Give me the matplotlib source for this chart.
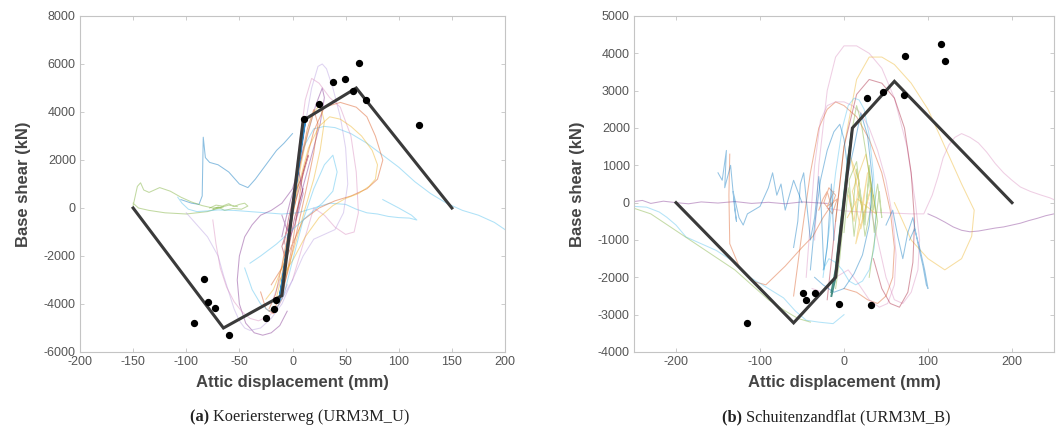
import matplotlib
matplotlib.use("Agg")
import matplotlib.pyplot as plt

# ---------------- data ----------------
# MATLAB default line colours
C_BLUE = (0.0, 0.447, 0.741)
C_ORANGE = (0.85, 0.325, 0.098)
C_YELLOW = (0.929, 0.694, 0.125)
C_PURPLE = (0.494, 0.184, 0.556)
C_GREEN = (0.466, 0.674, 0.188)
C_CYAN = (0.301, 0.745, 0.933)
C_RED = (0.635, 0.078, 0.184)
C_PINK = (0.85, 0.55, 0.75)
C_LAV = (0.72, 0.62, 0.88)

# (a) Koeriersterweg – backbone and target points
a_backbone_x = [-150, -65, -10, 10, 60, 150]
a_backbone_y = [0, -5000, -3650, 3650, 5000, 0]
a_dots_x = [63, 38, 49, 57, 25, 69, 11, 119, -83, -80, -73, -93, -60, -25, -17, -16]
a_dots_y = [6040, 5250, 5360, 4875, 4350, 4490, 3720, 3440,
            -2940, -3920, -4150, -4780, -5300, -4580, -4190, -3850]

# (a) response curves (hand-read)
a_cyan_long_x = [-5, 2, 10, 20, 30, 40, 55, 70, 85, 100, 115, 130, 145, 160, 175, 190, 200]
a_cyan_long_y = [-1500, 800, 2500, 3300, 3400, 3350, 3100, 2700, 2200, 1700, 1100, 600, 200, -100, -300, -600, -900]
a_blue_spike_x = [-105, -95, -88, -85, -84, -82, -78, -70, -60, -50, -42, -35, -25, -15, -8, 0]
a_blue_spike_y = [350, 200, 150, 500, 2950, 2100, 1900, 1800, 1500, 1000, 850, 1200, 1800, 2400, 2700, 3100]
a_green_left_x = [-150, -148, -146, -143, -140, -135, -125, -115, -105, -95, -85, -75, -65, -80, -100, -120, -135, -145, -150]
a_green_left_y = [100, 500, 900, 1050, 750, 650, 850, 700, 450, 250, 100, 0, 50, -150, -250, -200, -100, 0, 200]
a_green_cl_x = [-78, -72, -66, -60, -55, -50, -45, -42, -48, -56, -64, -70, -75, -68, -60, -52]
a_green_cl_y = [0, 120, 80, 180, 60, 150, 200, 80, -50, -20, -100, 40, -50, 20, 120, 60]
a_cyan_mid_x = [-108, -104, -98, -90, -80, -70, -55, -40, -25, -10, 5, 20, 35, 50, 60, 70, 80, 90, 100, 110, 117, 112, 100, 85]
a_cyan_mid_y = [450, 200, -50, -150, -120, -80, -100, -150, -200, -250, -200, 0, 200, 150, -50, -200, -250, -350, -400, -420, -500, -300, 0, 350]
a_purple_x = [-5, -12, -20, -28, -36, -44, -50, -52, -50, -45, -38, -30, -20, -10, 0, 8, 15, 22, 28, 30, 26, 18, 10, 3]
a_purple_y = [-4300, -4900, -5200, -5300, -5200, -4800, -4000, -3000, -2000, -1200, -700, -300, -100, 200, 800, 2000, 3200, 4300, 5000, 4600, 3500, 2200, 900, -500]
a_lav_x = [-20, -10, -2, 5, 12, 18, 24, 28, 32, 38, 45, 50, 52, 48, 40, 30, 20, 10, 0, -10]
a_lav_y = [-4000, -2800, -1000, 1000, 3500, 5000, 5900, 6000, 5800, 5000, 3800, 2500, 1000, -200, -900, -1100, -1300, -2000, -3000, -3800]
a_pink_x = [-10, -2, 6, 12, 18, 25, 35, 45, 55, 60, 62, 58, 50, 40, 30, 20, 10, 0]
a_pink_y = [-3000, -500, 2500, 4500, 5400, 5200, 4600, 4200, 3000, 1500, -200, -1000, -1100, -800, -300, 0, -1500, -3000]
a_orange_x = [-30, -25, -18, -10, 0, 10, 20, 30, 45, 60, 70, 78, 85, 80, 70, 55, 40, 25, 10, 0, -10, -20]
a_orange_y = [-3500, -4200, -4400, -3800, -1500, 1500, 3200, 4200, 4400, 4200, 3800, 3000, 2000, 1200, 800, 500, 300, 0, -500, -1500, -2500, -3200]
a_yellow_x = [-25, -18, -10, -2, 6, 15, 25, 35, 45, 55, 65, 75, 80, 78, 72, 62, 50, 38, 25, 12, 0, -12]
a_yellow_y = [-3800, -3400, -2500, -800, 1000, 2500, 3400, 3800, 3700, 3400, 3000, 2400, 1800, 1200, 900, 600, 400, 100, -400, -1200, -2200, -3000]
a_lp2_x = [-100, -90, -80, -70, -65, -60, -55, -50, -45, -40, -30, -20, -10, 0]
a_lp2_y = [-200, -700, -1200, -2000, -2800, -3500, -4200, -4700, -5000, -5100, -5000, -4600, -4000, -3000]
a_lp3_x = [-75, -72, -68, -62, -55, -48, -40, -32, -22, -12, -5]
a_lp3_y = [-500, -1500, -2500, -3300, -3900, -4300, -4600, -4700, -4500, -4000, -3200]
a_red_x = [-8, -4, 0, 4, 8, 12, 15, 10, 5, 0, -5, -10, -6, 2, 10]
a_red_y = [-1500, -500, 300, 800, 1200, 1800, 2200, 1400, 600, -200, -900, -1600, -2200, -400, 800]
a_or2_x = [-22, -16, -10, -4, 2, 8, 14, 20, 24, 20, 14, 8, 2, -4, -10, -16, -22]
a_or2_y = [-4200, -3600, -2400, -1000, 600, 2000, 3300, 4100, 3500, 2300, 1000, -200, -1400, -2600, -3500, -4100, -4300]
a_yel2_x = [-16, -10, -4, 2, 8, 14, 20, 26, 30, 26, 20, 12, 4, -4, -12]
a_yel2_y = [-3900, -2800, -1400, 200, 1800, 3100, 4000, 4300, 3600, 2400, 1200, 0, -1300, -2500, -3500]
a_pur2_x = [-10, -6, -2, 2, 6, 10, 6, 2, -2, -6, -10]
a_pur2_y = [-1200, -400, 300, 900, 1500, 600, -100, -700, -1200, -800, -300]
a_blue2_x = [-45, -38, -30, -22, -15, -8, 0, 10, 20, 30, 38, 42, 38, 28, 15, 0, -15, -30, -40]
a_blue2_y = [-2500, -3400, -4000, -4300, -4200, -3600, -2200, -500, 800, 1800, 2200, 1500, 700, 200, -300, -900, -1500, -2000, -2300]
a_core_x = [-12, -8, -4, 0, 4, 8, 12, 8, 4, 0, -4, -8, -12]
a_core_y = [-3800, -2600, -1300, 0, 1300, 2600, 3700, 2500, 1200, -100, -1400, -2700, -3700]

# (b) Schuitenzandflat – backbone and target points
b_backbone_x = [-200, -60, -10, 10, 60, 200]
b_backbone_y = [0, -3220, -2000, 2000, 3250, 0]
b_dots_x = [116, 120, 73, 27, 47, 71, -116, -49, -45, -35, -6, 32]
b_dots_y = [4240, 3795, 3930, 2810, 2960, 2875, -3220, -2410, -2615, -2410, -2705, -2750]

# (b) response curves (hand-read)
b_purple_flat_x = [-250, -240, -230, -215, -200, -185, -170, -150, -130, -110, -90, -70, -50, -35, -20]
b_purple_flat_y = [30, 60, -20, 40, 0, -30, 20, -10, 30, -20, 10, -30, 20, 0, -20]
b_purple_hump_x = [-20, 0, 20, 40, 60, 80, 95, 105, 112, 118, 125, 132, 140, 150, 160, 170, 180, 190, 200, 210, 222, 235, 245, 250]
b_purple_hump_y = [-150, -220, -250, -260, -280, -300, -300, 200, 700, 1200, 1550, 1750, 1850, 1750, 1600, 1350, 1050, 800, 600, 420, 300, 200, 130, 80]
b_purple_low_x = [100, 110, 120, 130, 140, 150, 160, 170, 180, 190, 200, 210, 220, 230, 240, 250]
b_purple_low_y = [-300, -400, -520, -650, -740, -780, -760, -720, -680, -650, -600, -550, -480, -420, -350, -300]
b_pink_tall_x = [-35, -30, -20, -10, 0, 15, 30, 45, 60, 75, 85, 90, 88, 80, 70, 60, 50, 40, 30]
b_pink_tall_y = [-1000, 1000, 3000, 3900, 4200, 4200, 4000, 3600, 2800, 1500, 0, -1000, -1800, -2400, -2700, -2600, -2000, -1000, 0]
b_yellow_x = [-10, 0, 15, 30, 45, 60, 80, 100, 120, 140, 155, 152, 140, 120, 100, 80, 60]
b_yellow_y = [-500, 1500, 3300, 3900, 3900, 3700, 3200, 2500, 1500, 500, -200, -900, -1500, -1800, -1500, -1000, 0]
b_orange_left_x = [-136, -137, -136, -125, -110, -93, -70, -50, -37, -25, -13]
b_orange_left_y = [1300, 200, -1100, -1700, -2100, -2200, -1700, -1200, -900, -400, 0]
b_orange_cl_x = [-30, -25, -20, -15, -10, -18, -24, -14, -8, -20, -12]
b_orange_cl_y = [-200, 100, 300, -100, 200, 400, 0, -300, 100, -100, 300]
b_orange_loop_x = [-60, -50, -40, -30, -20, -10, 0, 15, 30, 45, 55, 60, 58, 50, 40, 28, 15, 0]
b_orange_loop_y = [-2500, -800, 800, 2000, 2500, 2700, 2600, 2300, 1700, 800, -200, -1200, -2000, -2500, -2700, -2600, -2400, -2300]
b_blue_left_x = [-150, -145, -140, -142, -135, -130, -128, -132, -125, -120, -115, -100, -90, -85, -80, -75, -70, -60, -50]
b_blue_left_y = [800, 600, 1400, 400, 1000, -200, -500, 300, -400, -600, -300, -100, 400, 800, 200, 500, -200, 600, 0]
b_cyan_low_x = [-250, -235, -220, -211, -200, -188, -170, -152, -130, -112, -90, -72, -58, -45, -30, -13, 0]
b_cyan_low_y = [-100, -120, -250, -390, -600, -920, -1100, -1280, -1600, -2000, -2300, -2550, -2900, -3150, -3200, -3240, -3000]
b_green_low_x = [-250, -230, -210, -190, -170, -150, -130, -110, -90, -70, -55, -40]
b_green_low_y = [-150, -300, -600, -900, -1200, -1500, -1800, -2200, -2600, -2900, -3100, -3200]
b_pink2_x = [-45, -40, -35, -28, -20, -10, 0, 10, 20, 30, 40, 50, 58, 62, 60, 52, 42, 30, 18, 5, -10, -25, -38]
b_pink2_y = [-2000, -500, 1000, 2200, 2600, 2700, 2700, 2600, 2400, 2000, 1400, 600, -400, -1400, -2200, -2700, -2800, -2600, -2200, -1800, -2000, -2400, -2300]
b_pink3_x = [-20, -10, 0, 15, 30, 45, 60, 72, 80, 84, 82, 76, 66, 55, 45, 35]
b_pink3_y = [-2600, -500, 1500, 2900, 3300, 3200, 2800, 2000, 800, -500, -1600, -2400, -2800, -2700, -2300, -1500]
b_cyan_tall_x = [-25, -18, -10, -2, 5, 12, 18, 24, 30, 35, 38, 36, 30, 22, 14, 6, -2, -10, -18, -25]
b_cyan_tall_y = [-2000, -800, 800, 2000, 2600, 2800, 2750, 2500, 1800, 800, -300, -1200, -1800, -2100, -2200, -2100, -1800, -1600, -1500, -1800]
b_blue_mid_x = [-60, -55, -52, -48, -45, -40, -35, -30, -27, -24, -20, -15, -12]
b_blue_mid_y = [-1200, -500, 500, 800, 100, -1000, -400, 700, -200, -1800, -1200, 500, -1000]
b_blue_right_x = [50, 58, 64, 70, 76, 82, 88, 94, 98, 100, 96, 90, 84, 78]
b_blue_right_y = [-600, -200, -900, -1500, -800, -400, -1100, -1700, -2200, -2300, -1800, -1200, -700, -1000]
b_green_cl_x = [0, 5, 10, 15, 20, 25, 30, 35, 40, 45, 42, 36, 30, 24, 18, 12, 6, 15, 25, 35]
b_green_cl_y = [-800, 400, -300, 900, 200, -600, 1000, -200, 500, -400, 300, -800, 700, -500, 300, -900, 600, 1100, -900, 200]
b_green_cl2_x = [5, 12, 18, 8, 22, 28, 14, 32, 20, 10, 26, 38, 16, 4]
b_green_cl2_y = [200, -500, 600, 1200, -200, 800, -1100, 400, -700, 300, 1300, -300, 100, -400]
b_green_tall_x = [-10, -5, 0, 5, 10, 15, 20, 25, 30, 35, 40, 35, 30]
b_green_tall_y = [-2300, -1500, -300, 1000, 2000, 2600, 2200, 1500, 800, 200, -500, -1200, -2000]
b_cyan2_x = [-40, -35, -28, -20, -12, -5, 0, 5, 12, 20, 28, 34, 30, 22, 12, 0, -12, -25, -35]
b_cyan2_y = [-1800, -600, 600, 1400, 1900, 2100, 1700, 800, 1500, 2400, 1800, 600, -600, -1400, -1900, -2300, -2400, -2200, -2000]
b_core_x = [-15, -10, -5, 0, 5, 10, 5, 0, -5, -10, -15]
b_core_y = [-2500, -2000, -1000, 0, 1000, 2000, 1200, 200, -800, -1800, -2400]

a_xticks = [-200, -150, -100, -50, 0, 50, 100, 150, 200]
a_yticks = [-6000, -4000, -2000, 0, 2000, 4000, 6000, 8000]
b_xticks = [-200, -100, 0, 100, 200]
b_yticks = [-4000, -3000, -2000, -1000, 0, 1000, 2000, 3000, 4000, 5000]

a_curves = [
    (a_cyan_long_x, a_cyan_long_y, C_CYAN),
    (a_blue_spike_x, a_blue_spike_y, C_BLUE),
    (a_green_left_x, a_green_left_y, C_GREEN),
    (a_green_cl_x, a_green_cl_y, C_GREEN),
    (a_cyan_mid_x, a_cyan_mid_y, C_CYAN),
    (a_purple_x, a_purple_y, C_PURPLE),
    (a_lav_x, a_lav_y, C_LAV),
    (a_pink_x, a_pink_y, C_PINK),
    (a_orange_x, a_orange_y, C_ORANGE),
    (a_yellow_x, a_yellow_y, C_YELLOW),
    (a_lp2_x, a_lp2_y, C_LAV),
    (a_lp3_x, a_lp3_y, C_PINK),
    (a_red_x, a_red_y, C_RED),
    (a_or2_x, a_or2_y, C_ORANGE),
    (a_yel2_x, a_yel2_y, C_YELLOW),
    (a_pur2_x, a_pur2_y, C_PURPLE),
    (a_blue2_x, a_blue2_y, C_CYAN),
]
b_curves = [
    (b_purple_flat_x, b_purple_flat_y, C_PURPLE),
    (b_purple_hump_x, b_purple_hump_y, C_PINK),
    (b_purple_low_x, b_purple_low_y, C_PURPLE),
    (b_pink_tall_x, b_pink_tall_y, C_PINK),
    (b_yellow_x, b_yellow_y, C_YELLOW),
    (b_orange_left_x, b_orange_left_y, C_ORANGE),
    (b_orange_cl_x, b_orange_cl_y, C_ORANGE),
    (b_orange_loop_x, b_orange_loop_y, C_ORANGE),
    (b_blue_left_x, b_blue_left_y, C_BLUE),
    (b_cyan_low_x, b_cyan_low_y, C_CYAN),
    (b_green_low_x, b_green_low_y, C_GREEN),
    (b_pink2_x, b_pink2_y, C_PINK),
    (b_pink3_x, b_pink3_y, C_RED),
    (b_cyan_tall_x, b_cyan_tall_y, C_CYAN),
    (b_blue_mid_x, b_blue_mid_y, C_BLUE),
    (b_blue_right_x, b_blue_right_y, C_BLUE),
    (b_green_cl_x, b_green_cl_y, C_GREEN),
    (b_green_cl2_x, b_green_cl2_y, C_YELLOW),
    (b_green_tall_x, b_green_tall_y, C_GREEN),
    (b_cyan2_x, b_cyan2_y, C_BLUE),
]

# ---------------- figure ----------------
plt.rcParams['font.family'] = ['Liberation Sans', 'DejaVu Sans']
fig = plt.figure(figsize=(10.56, 4.32), dpi=100)
axA = fig.add_axes([80 / 1056, 80 / 432, 425 / 1056, 336 / 432])
axB = fig.add_axes([634 / 1056, 80 / 432, 420 / 1056, 336 / 432])


def style(ax, xlim, ylim, xt, yt):
    ax.set_xlim(*xlim)
    ax.set_ylim(*ylim)
    ax.set_xticks(xt)
    ax.set_yticks(yt)
    ax.set_xticklabels([str(v) for v in xt])
    ax.set_yticklabels([str(v) for v in yt])
    for s in ax.spines.values():
        s.set_color('#c4c4c4')
        s.set_linewidth(0.8)
    ax.tick_params(direction='in', length=3, width=0.6, color='#c4c4c4',
                   labelsize=9, labelcolor='#555555', top=True, right=True, pad=3)
    ax.set_xlabel('Attic displacement (mm)', fontsize=12, fontweight='bold',
                  color='#444444', labelpad=5)
    ax.set_ylabel('Base shear (kN)', fontsize=12, fontweight='bold',
                  color='#444444', labelpad=9)


for x, y, c in a_curves:
    axA.plot(x, y, color=c, lw=0.75, alpha=0.45)
axA.plot(a_core_x, a_core_y, color=C_BLUE, lw=1.6, alpha=0.8)
axA.plot(a_backbone_x, a_backbone_y, color='#3a3a3a', lw=2.2, solid_joinstyle='miter')
axA.scatter(a_dots_x, a_dots_y, s=18, color='black', zorder=5)
style(axA, (-200, 200), (-6000, 8000), a_xticks, a_yticks)

for x, y, c in b_curves:
    axB.plot(x, y, color=c, lw=0.75, alpha=0.42)
axB.plot(b_core_x, b_core_y, color=(0.1, 0.45, 0.4), lw=1.4, alpha=0.8)
axB.plot(b_backbone_x, b_backbone_y, color='#3a3a3a', lw=2.2, solid_joinstyle='miter')
axB.scatter(b_dots_x, b_dots_y, s=18, color='black', zorder=5)
style(axB, (-250, 250), (-4000, 5000), b_xticks, b_yticks)

# captions: bold label + normal serif text
fig.canvas.draw()
renderer = fig.canvas.get_renderer()


def caption(xc, label, text):
    serif = ['Liberation Serif', 'DejaVu Serif']
    t1 = fig.text(0, 0, label + ' ', fontsize=11.8, fontweight='bold', family=serif,
                  color='#222222')
    t2 = fig.text(0, 0, text, fontsize=11.8, family=serif, color='#222222')
    w1 = t1.get_window_extent(renderer).width / fig.bbox.width
    w2 = t2.get_window_extent(renderer).width / fig.bbox.width
    x0 = xc - (w1 + w2) / 2
    y = 1 - 421 / 432
    t1.set_position((x0, y))
    t2.set_position((x0 + w1, y))


caption(300 / 1056, '(a)', 'Koeriersterweg (URM3M_U)')
caption(836 / 1056, '(b)', 'Schuitenzandflat (URM3M_B)')

fig.savefig('out.png', dpi=100)
